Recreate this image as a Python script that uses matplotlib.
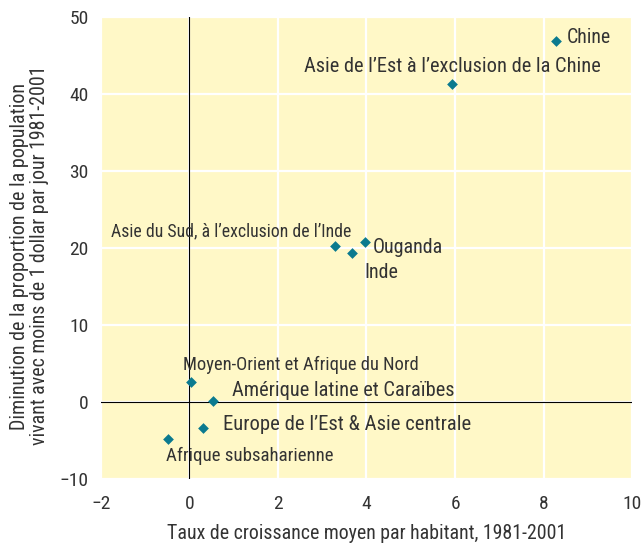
import os
import matplotlib
matplotlib.use("Agg")
import matplotlib.pyplot as plt
from matplotlib import font_manager

fam = ['DejaVu Sans']
for p in ['/usr/share/fonts/truetype/roboto/unhinted/RobotoCondensed-Regular.ttf',
          '/usr/share/fonts/truetype/roboto/hinted/RobotoCondensed-Regular.ttf']:
    if os.path.exists(p):
        font_manager.fontManager.addfont(p)
        fam = [font_manager.FontProperties(fname=p).get_name(), 'DejaVu Sans']
        break
plt.rcParams['font.family'] = fam
plt.rcParams['axes.unicode_minus'] = True

# ---- data ----
regions = ["Chine", "Asie de l\u2019Est \u00e0 l\u2019exclusion de la Chine",
           "Asie du Sud, \u00e0 l\u2019exclusion de l\u2019Inde", "Inde", "Ouganda",
           "Moyen-Orient et Afrique du Nord", "Am\u00e9rique latine et Cara\u00efbes",
           "Europe de l\u2019Est & Asie centrale", "Afrique subsaharienne"]
growth = [8.28, 5.92, 3.30, 3.67, 3.97, 0.04, 0.53, 0.32, -0.49]
reduction = [46.8, 41.3, 20.2, 19.3, 20.7, 2.6, 0.1, -3.4, -4.8]
xticks = [-2, 0, 2, 4, 6, 8, 10]
yticks = [-10, 0, 10, 20, 30, 40, 50]
xlabel = "Taux de croissance moyen par habitant, 1981-2001"
ylabel_lines = ["Diminution de la proportion de la population",
                "vivant avec moins de 1 dollar par jour 1981-2001"]

# ---- styles: label offsets in pixels (dx, dy), alignment, target width px ----
label_style = [(11, -1.6, 'left', 44), (0.8, 11.3, 'center', 295), (16, 10, 'right', 240),
               (12.3, -25, 'left', 34), (7.7, -10.6, 'left', 70), (-8, 11.7, 'left', 235),
               (19.3, 5, 'left', 221), (19.7, -1.7, 'left', 246), (-1.7, -22, 'left', 167)]
TXT = '#333333'

fig = plt.figure(figsize=(6.44, 5.43), dpi=100)
W, H = 644, 543
ax = fig.add_axes([100.7 / W, 1 - 479 / H, (632.3 - 100.7) / W, (479 - 16.7) / H])
ax.set_facecolor('#FFF8C7')
ax.set_xlim(-2, 10)
ax.set_ylim(-10, 50)
ax.set_xticks(xticks)
ax.set_yticks(yticks)
ax.grid(True, color='white', linewidth=1.6)
ax.set_axisbelow(True)
for s in ax.spines.values():
    s.set_visible(False)
ax.tick_params(length=0, labelsize=14, colors=TXT)
ax.tick_params(axis='y', pad=8.6)
ax.tick_params(axis='x', pad=11.5)
ax.axhline(0, color='black', linewidth=0.8, zorder=2)
ax.axvline(0, color='black', linewidth=0.8, zorder=2)

ax.scatter(growth, reduction, marker='D', s=30, color='#0B7A8F', zorder=3, linewidths=0)

renderer = fig.canvas.get_renderer()


def fit(t, target):
    t.set_fontsize(13)
    w = t.get_window_extent(renderer).width
    t.set_fontsize(13 * target / w)


for name, x, y, (dx, dy, ha, tw) in zip(regions, growth, reduction, label_style):
    t = ax.annotate(name, (x, y), xytext=(dx, dy), textcoords='offset pixels',
                    ha=ha, va='baseline', color=TXT, zorder=4)
    fit(t, tw)

tx = fig.text(366.5 / W, 1 - 539 / H, xlabel, ha='center', va='baseline', color=TXT)
fit(tx, 397)

ty1 = fig.text(20 / W, 1 - 256.5 / H, ylabel_lines[0], rotation=90, ha='center', va='center', color=TXT)
ty2 = fig.text(40 / W, 1 - 255 / H, ylabel_lines[1], rotation=90, ha='center', va='center', color=TXT)
for t, L in ((ty1, 347), (ty2, 380)):
    t.set_fontsize(13)
    h = t.get_window_extent(renderer).height
    t.set_fontsize(13 * L / h)

fig.savefig('out.png', dpi=100, facecolor='white')
